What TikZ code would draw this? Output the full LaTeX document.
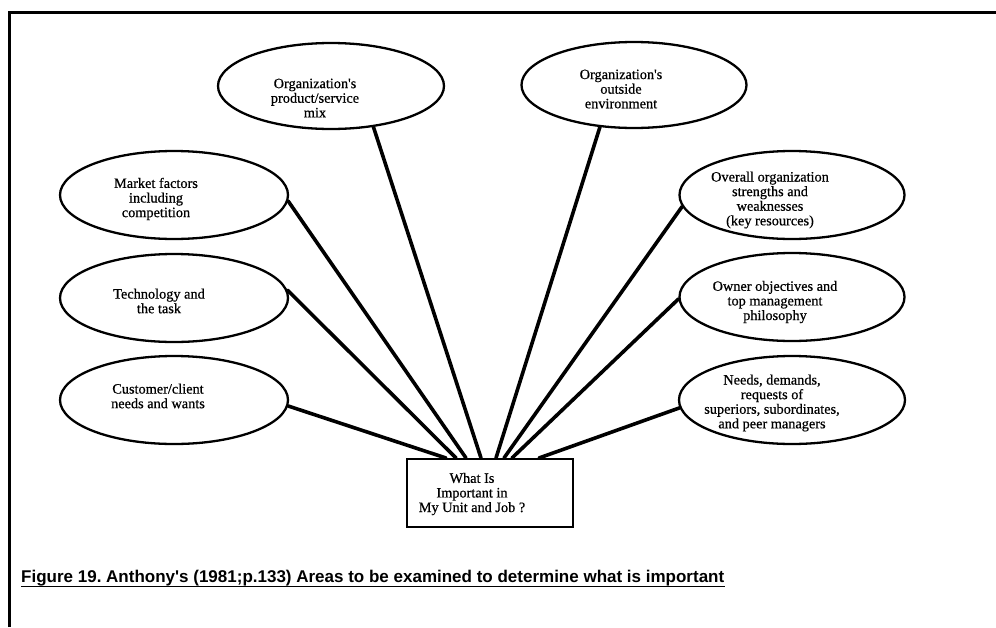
\documentclass[tikz,border=0pt]{standalone}
\usepackage{fontspec}
\setmainfont{Liberation Serif}
\newfontfamily\diafont{Liberation Serif}[FakeBold=0.6]
\newfontfamily\capfont{Liberation Sans}
\usetikzlibrary{shapes.geometric,calc}
\begin{document}
\frenchspacing
\begin{tikzpicture}[x=1pt,y=-1pt,
  area/.style={draw,ellipse,line width=2.3pt,inner sep=0pt,minimum width=228pt,minimum height=88pt},
  areatxt/.style={align=center,inner sep=0pt,font=\diafont\fontsize{14.3}{14.6}\selectfont},
  centrebox/.style={draw,rectangle,line width=2pt,inner sep=0pt,minimum width=166pt,minimum height=68pt},
  link/.style={line width=3.6pt,line cap=round}]
\useasboundingbox (0,0) rectangle (996,627);

% partial frame: top and left edges
\draw[line width=3pt] (9,627) -- (9,12) -- (996,12);

% the eight areas
\node[area,minimum width=226pt,minimum height=86pt] (prod) at (331,86) {};
\node[area,minimum width=225pt,minimum height=86pt] (outs) at (634,85) {};
\node[area] (mkt)  at (174,195) {};
\node[area] (tech) at (174,298) {};
\node[area] (cust) at (174,400) {};
\node[area,minimum width=225pt] (strg) at (792,195) {};
\node[area,minimum width=225pt] (ownr) at (792,297) {};
\node[area,minimum width=226pt] (need) at (792,400) {};

\node[areatxt] (prodt) at (315,98) {Organization's\\product/service\\mix};
\node[areatxt] (outst) at (621,89) {Organization's\\outside\\environment};
\node[areatxt] (mktt)  at (156,199) {Market factors\\including\\competition};
\node[areatxt] (techt) at (159,301) {Technology and\\the task};
\node[areatxt] (custt) at (158,396) {Customer/client\\needs and wants};
\node[areatxt] (strgt) at (770,200) {Overall organization\\strengths and\\weaknesses\\(key resources)};
\node[areatxt] (ownrt) at (775,302) {Owner objectives and\\top management\\philosophy};
\node[areatxt] (needt) at (772,403) {Needs, demands,\\requests of\\superiors, subordinates,\\and peer managers};

% central question
\node[centrebox] (box) at (490,493) {};
\node[areatxt] (boxt) at (472,494) {What Is\\Important in\\My Unit and Job ?};

% connectors fanning into the top of the box
\draw[link] (cust.-3)   -- ($(box.north west)+(40,0)$);
\draw[link] (tech.4)    -- ($(box.north west)+(50,0)$);
\draw[link] (mkt.-3.5)  -- ($(box.north west)+(60,0)$);
\draw[link] (prod.-44)  -- ($(box.north west)+(75,0)$);
\draw[link] (outs.-129) -- ($(box.north west)+(90,0)$);
\draw[link] (strg.186.7) -- ($(box.north west)+(98,0)$);
\draw[link] (ownr.181)  -- ($(box.north west)+(106,0)$);
\draw[link] (need.184)  -- ($(box.north west)+(133,0)$);

% caption
\node[anchor=base west,inner sep=0pt,font=\capfont\bfseries\fontsize{17}{20}\selectfont] (cap) at (21,582)
  {Figure 19. Anthony's (1981;p.133) Areas to be examined to determine what is important};
\draw[line width=1.5pt] ($(cap.base west)+(0,4.5)$) -- ($(cap.base east)+(0,4.5)$);
\end{tikzpicture}
\end{document}
